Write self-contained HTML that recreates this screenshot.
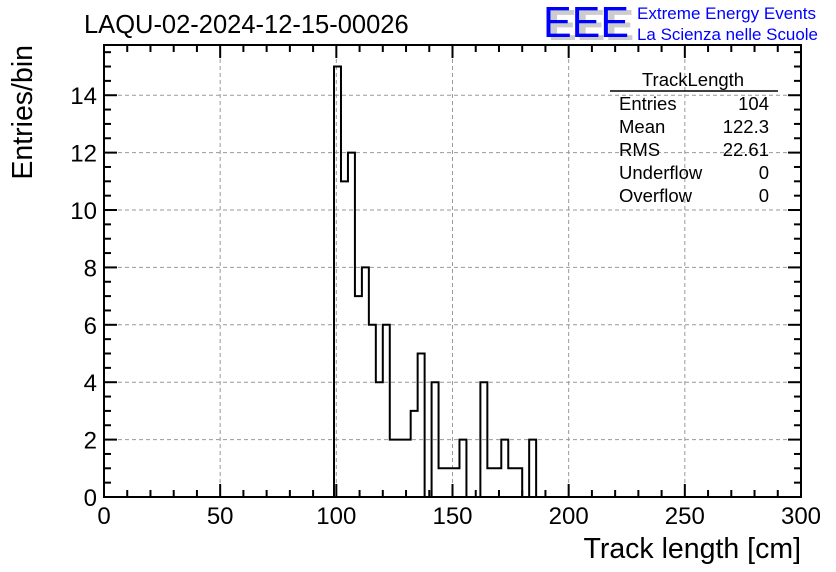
<!DOCTYPE html>
<html><head><meta charset="utf-8"><style>
body{margin:0;background:#fff;}
svg{display:block;font-family:"Liberation Sans",Arial,sans-serif;}
</style></head><body>
<svg id="c" width="836" height="572">
<text x="84" y="33" font-size="25.5">LAQU-02-2024-12-15-00026</text>
<g>
<text x="548" y="40" font-size="44" fill="#ccc" font-weight="bold" textLength="86" lengthAdjust="spacingAndGlyphs">EEE</text>
<text x="543" y="37" font-size="44" fill="#0000ff" textLength="86" lengthAdjust="spacingAndGlyphs">EEE</text>
<text x="637" y="19" font-size="17" fill="#0000ff" textLength="179" lengthAdjust="spacingAndGlyphs">Extreme Energy Events</text>
<text x="637" y="40" font-size="17" fill="#0000ff" textLength="181" lengthAdjust="spacingAndGlyphs">La Scienza nelle Scuole</text>
</g>
<g id="grid"></g>
<g id="axes"></g>
<path id="hist" fill="none" stroke="#000" stroke-width="2"/>
<g font-size="18.5">
<text x="693" y="86" text-anchor="middle">TrackLength</text>
<line x1="610" y1="91" x2="778" y2="91" stroke="#000" stroke-width="1.5"/>
<text x="619" y="110">Entries</text><text x="769" y="110" text-anchor="end">104</text>
<text x="619" y="133">Mean</text><text x="769" y="133" text-anchor="end">122.3</text>
<text x="619" y="156">RMS</text><text x="769" y="156" text-anchor="end">22.61</text>
<text x="619" y="179">Underflow</text><text x="769" y="179" text-anchor="end">0</text>
<text x="619" y="202">Overflow</text><text x="769" y="202" text-anchor="end">0</text>
</g>
<text x="801" y="558" font-size="28.5" text-anchor="end">Track length [cm]</text>
<text transform="translate(32,45) rotate(-90)" font-size="28.5" text-anchor="end">Entries/bin</text>
</svg>
<script>
const binStart = 99;
const binWidth = 3;
const counts = [15,11,12,7,8,6,4,6,2,2,2,3,5,0,4,1,1,1,2,0,0,4,1,1,2,1,1,0,2];
const xTicks = [0,50,100,150,200,250,300];
const yTicks = [0,2,4,6,8,10,12,14];
const X0=104,X1=801,Y0=497,Y1=45,xmin=0,xmax=300,ymin=0,ymax=15.75;
const sx=v=>X0+(v-xmin)/(xmax-xmin)*(X1-X0);
const sy=v=>Y0-(v-ymin)/(ymax-ymin)*(Y0-Y1);
const NS="http://www.w3.org/2000/svg";
function mk(tag,attrs,parent){const e=document.createElementNS(NS,tag);for(const k in attrs)e.setAttribute(k,attrs[k]);parent.appendChild(e);return e;}
const grid=document.getElementById('grid'),axes=document.getElementById('axes');
xTicks.forEach(t=>{if(t>xmin&&t<xmax){const l=mk('line',{x1:sx(t),x2:sx(t),y1:Y0,y2:Y1,stroke:'#999','stroke-dasharray':'4,3','stroke-width':1},grid);

}});
yTicks.forEach(t=>{if(t>ymin){const l=mk('line',{x1:X0,x2:X1,y1:sy(t),y2:sy(t),stroke:'#999','stroke-dasharray':'4,3','stroke-width':1},grid);

}});
const fr=mk('rect',{x:X0,y:Y1,width:X1-X0,height:Y0-Y1,fill:'none',stroke:'#000','stroke-width':2},axes);


for(let v=xmin;v<=xmax;v+=10){const L=(v%50===0)?13:7;
mk('line',{x1:sx(v),x2:sx(v),y1:Y0,y2:Y0-L,stroke:'#000','stroke-width':2},axes);
mk('line',{x1:sx(v),x2:sx(v),y1:Y1,y2:Y1+L,stroke:'#000','stroke-width':2},axes);}
for(let v=0;v<=ymax;v+=0.5){const L=(v%2===0)?13:7;
mk('line',{x1:X0,x2:X0+L,y1:sy(v),y2:sy(v),stroke:'#000','stroke-width':2},axes);
mk('line',{x1:X1,x2:X1-L,y1:sy(v),y2:sy(v),stroke:'#000','stroke-width':2},axes);}
xTicks.forEach(t=>{const e=mk('text',{x:sx(t),y:524,'font-size':24,'text-anchor':'middle'},axes);e.textContent=t;

});
yTicks.forEach(t=>{const e=mk('text',{x:97,y:sy(t)+9,'font-size':24,'text-anchor':'end'},axes);e.textContent=t;

});
let d='M'+sx(binStart)+','+sy(0);
counts.forEach((c,i)=>{const a=sx(binStart+i*binWidth),b=sx(binStart+(i+1)*binWidth);d+=' L'+a+','+sy(c)+' L'+b+','+sy(c);});
d+=' L'+sx(binStart+counts.length*binWidth)+','+sy(0);
document.getElementById('hist').setAttribute('d',d);
</script>
</body></html>
